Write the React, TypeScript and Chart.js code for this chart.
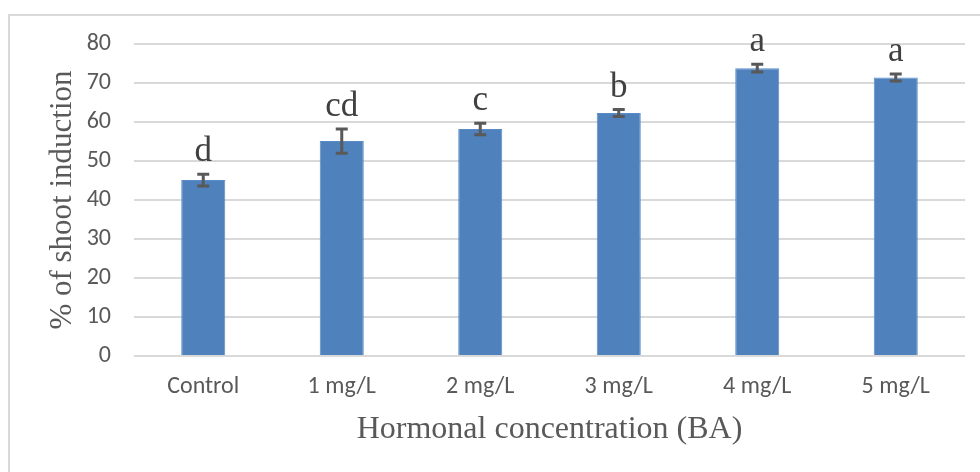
import React, { useEffect, useRef } from "react";
import { Chart, registerables } from "chart.js";

Chart.register(...registerables);

const categories = ["Control", "1 mg/L", "2 mg/L", "3 mg/L", "4 mg/L", "5 mg/L"];
const shootInduction = [45.1, 55.1, 58.2, 62.3, 73.8, 71.4];
const errorMargins = [1.5, 3.1, 1.5, 0.9, 1.0, 0.9];
const significanceLetters = ["d", "cd", "c", "b", "a", "a"];
const yTicks = [0, 10, 20, 30, 40, 50, 60, 70, 80];
const xTitle = "Hormonal concentration (BA)";
const yTitle = "% of shoot induction";

const SERIF = "'Liberation Serif', 'Times New Roman', 'DejaVu Serif', serif";
const SANS = "Carlito, Calibri, Lato, 'Open Sans', sans-serif";

const framePlugin = {
  id: "frame",
  beforeDraw(chart: any) {
    const ctx = chart.ctx;
    ctx.save();
    ctx.fillStyle = "#ffffff";
    ctx.fillRect(0, 0, chart.width, chart.height);
    ctx.strokeStyle = "#d9d9d9";
    ctx.lineWidth = 2;
    ctx.strokeRect(9, 15, chart.width + 20, chart.height + 20);
    ctx.restore();
  },
};

const errorBarPlugin = {
  id: "errorBars",
  afterDatasetsDraw(chart: any) {
    const ctx = chart.ctx;
    const meta = chart.getDatasetMeta(0);
    const y = chart.scales.y;
    ctx.save();
    meta.data.forEach((bar: any, i: number) => {
      const v = shootInduction[i];
      const e = errorMargins[i];
      const top = y.getPixelForValue(v + e);
      const bot = y.getPixelForValue(v - e);
      const x = bar.x;
      ctx.strokeStyle = "#595959";
      ctx.lineWidth = 3;
      ctx.beginPath();
      ctx.moveTo(x, top);
      ctx.lineTo(x, bot);
      ctx.moveTo(x - 6, top);
      ctx.lineTo(x + 6, top);
      ctx.moveTo(x - 6, bot);
      ctx.lineTo(x + 6, bot);
      ctx.stroke();
      ctx.fillStyle = "#404040";
      ctx.font = `35px ${SERIF}`;
      ctx.textAlign = "center";
      ctx.textBaseline = "alphabetic";
      ctx.fillText(significanceLetters[i], x, top - 13);
    });
    ctx.restore();
  },
};

export default function App() {
  const ref = useRef<HTMLCanvasElement>(null);
  useEffect(() => {
    if (!ref.current) return;
    const chart = new Chart(ref.current, {
      type: "bar",
      data: {
        labels: categories,
        datasets: [
          {
            data: shootInduction,
            backgroundColor: "#4f81bd",
            borderColor: "#5a8bc6",
            borderWidth: 1,
            categoryPercentage: 1,
            barPercentage: 0.318,
          },
        ],
      },
      options: {
        responsive: false,
        animation: false,
        layout: { padding: { left: 0, right: 15, top: 44, bottom: 0 } },
        plugins: { legend: { display: false }, tooltip: { enabled: false } },
        scales: {
          x: {
            grid: { display: false, drawTicks: false },
            border: { display: false },
            ticks: { color: "#595959", font: { family: SANS, size: 24 }, padding: 17 },
            title: {
              display: true,
              text: xTitle,
              color: "#595959",
              font: { family: SERIF, size: 32 },
              padding: { top: 0, bottom: 23 },
            },
            afterFit(scale: any) {
              scale.height = 116;
            },
          },
          y: {
            min: 0,
            max: 80,
            afterBuildTicks(scale: any) {
              scale.ticks = yTicks.map((v) => ({ value: v }));
            },
            grid: { color: "#d9d9d9", lineWidth: 2, drawTicks: false },
            border: { display: false },
            ticks: { color: "#595959", font: { family: SANS, size: 24 }, padding: 23 },
            title: {
              display: true,
              text: yTitle,
              color: "#595959",
              font: { family: SERIF, size: 31 },
              padding: { top: 44, bottom: 0 },
            },
            afterFit(scale: any) {
              scale.width = 134;
            },
          },
        },
      },
      plugins: [framePlugin, errorBarPlugin],
    });
    return () => chart.destroy();
  }, []);
  return (
    <div style={{ position: "fixed", left: 0, top: 0, width: 980, height: 472 }}>
      <canvas ref={ref} width={980} height={472} style={{ display: "block" }} />
    </div>
  );
}
